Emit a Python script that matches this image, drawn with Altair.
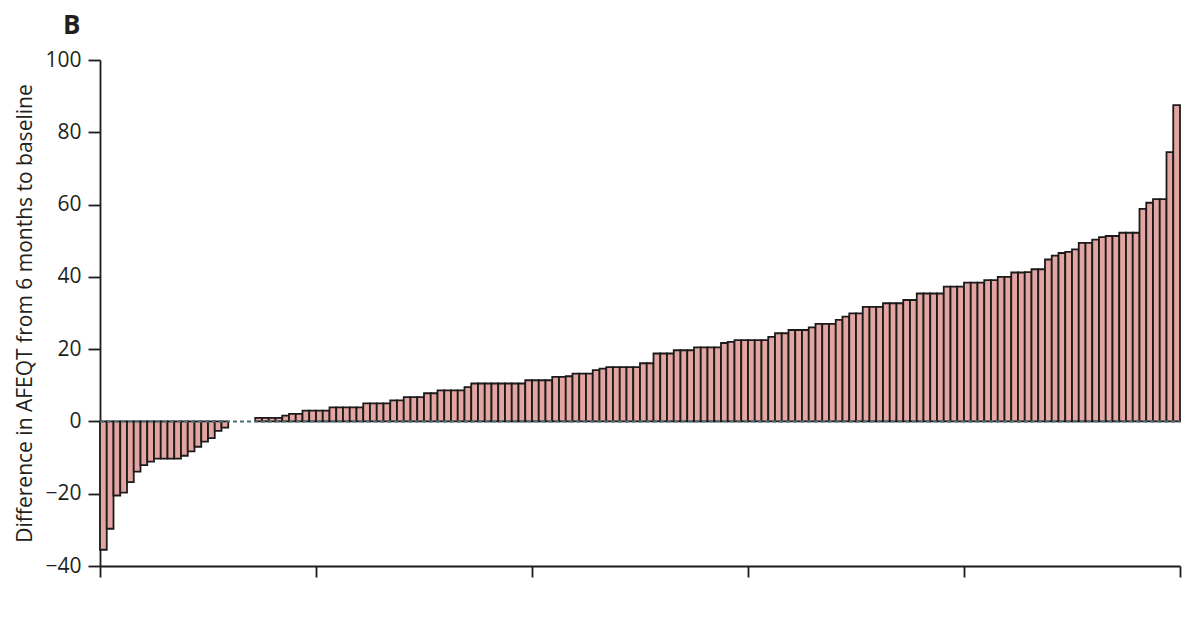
import altair as alt
import pandas as pd

# Patient change in AFEQT score (6 months minus baseline), sorted ascending
values = (
    [-35.5, -29.7, -20.5, -19.7, -16.8, -13.9, -12.1, -11.1, -10.3, -10.3,
     -10.3, -10.3, -9.5, -8.3, -7.0, -5.6, -4.6, -2.6, -1.7]
    + [0.0] * 4
    + [1.0] * 4 + [1.6] + [2.1] * 2 + [3.0] * 4 + [3.9] * 5 + [5.0] * 4
    + [5.8] * 2 + [6.7] * 3 + [7.8] * 2 + [8.6] * 4 + [9.5] + [10.5] * 8
    + [11.4] * 4 + [12.3] * 2 + [12.5] + [13.2] * 3 + [14.2] + [14.6]
    + [15.0] * 5 + [16.1] * 2 + [18.8] * 3 + [19.7] * 3 + [20.5] * 4
    + [21.7] + [22.0] + [22.5] * 5 + [23.4] + [24.4] * 2 + [25.3] * 3
    + [26.0] + [27.0] * 3 + [28.1] + [29.0] + [29.9] * 2 + [31.7] * 3
    + [32.7] * 3 + [33.6] * 2 + [35.4] * 4 + [37.3] * 3 + [38.4] * 3
    + [39.1] * 2 + [40.0] * 2 + [41.2] * 2 + [41.3] + [42.1] * 2
    + [44.8] + [45.9] + [46.6] + [46.9] + [47.6] + [49.4] * 2 + [50.3]
    + [51.0] + [51.3] * 2 + [52.2] * 3 + [58.8] + [60.5] + [61.5] * 2
    + [74.5] + [87.5]
)
patients = list(range(len(values)))
y_ticks = [-40, -20, 0, 20, 40, 60, 80, 100]
x_ticks = [0, 32, 64, 96, 128, 160]

df = pd.DataFrame({"patient": patients, "value": values})
df["patient_end"] = df["patient"] + 1
zero_df = pd.DataFrame({"x0": [0], "x1": [len(values)], "y0": [0]})

FONT = "Open Sans"
INK = "#231f20"

x_scale = alt.Scale(domain=[0, 160], nice=False, zero=False)
y_scale = alt.Scale(domain=[-40, 100], nice=False)

bars = (
    alt.Chart(df)
    .transform_filter("datum.value != 0")
    .mark_rect(fill="#E3A5A1", stroke="#1c1a1a", strokeWidth=1.8)
    .encode(
        x=alt.X(
            "patient:Q",
            scale=x_scale,
            axis=alt.Axis(
                values=x_ticks,
                labels=False,
                title=None,
                grid=False,
                domainColor="#1c1a1a",
                domainWidth=1.8,
                tickColor="#1c1a1a",
                tickWidth=1.8,
                tickSize=11,
            ),
        ),
        x2="patient_end:Q",
        y=alt.Y(
            "value:Q",
            scale=y_scale,
            axis=alt.Axis(
                values=y_ticks,
                title="Difference in AFEQT from 6 months to baseline",
                titleFont=FONT,
                titleFontSize=21,
                titleFontWeight="normal",
                titleColor=INK,
                titlePadding=9,
                labelFont=FONT,
                labelFontSize=21,
                labelColor=INK,
                labelPadding=7,
                grid=False,
                domainColor="#1c1a1a",
                domainWidth=1.8,
                tickColor="#1c1a1a",
                tickWidth=1.8,
                tickSize=12,
                format="d",
            ),
        ),
        y2=alt.datum(0),
    )
)

zero_line = (
    alt.Chart(zero_df)
    .mark_rule(color="#4f6d74", strokeWidth=2, strokeDash=[4, 3])
    .encode(
        x=alt.X("x0:Q", scale=x_scale),
        x2="x1:Q",
        y=alt.Y("y0:Q", scale=y_scale),
    )
)

chart = (
    alt.layer(bars, zero_line)
    .properties(
        width=1080,
        height=506,
        background="white",
        autosize=alt.AutoSizeParams(type="none"),
        padding={"left": 92, "top": 52, "right": 12, "bottom": 50},
        title=alt.TitleParams(
            "B",
            anchor="start",
            frame="group",
            font=FONT,
            fontSize=26,
            fontWeight="bold",
            color=INK,
            dx=-37,
            offset=10,
        ),
    )
    .configure_view(stroke=None)
)

chart.save("out.html", embed_options={"renderer": "svg", "actions": False})
